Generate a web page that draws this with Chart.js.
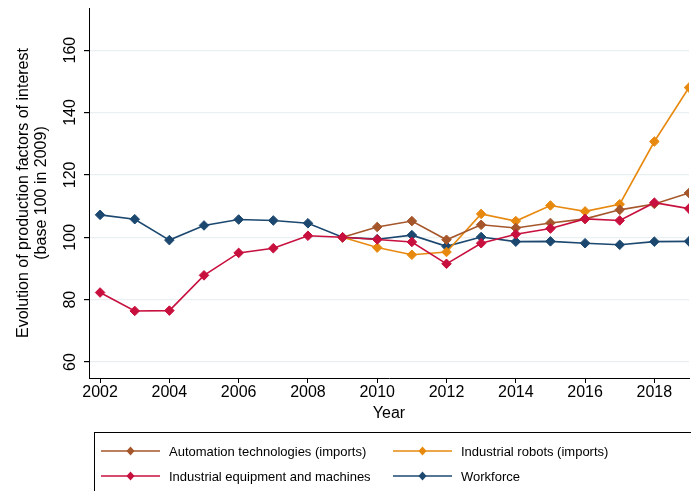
<!DOCTYPE html>
<html>
<head>
<meta charset="utf-8">
<script src="https://cdn.jsdelivr.net/npm/chart.js@4.4.1/dist/chart.umd.min.js"></script>
<style>
  html, body { margin: 0; padding: 0; background: #fff; }
  #wrap { width: 691px; height: 491px; }
</style>
</head>
<body>
<div id="wrap"><canvas id="myChart" width="691" height="491"></canvas></div>
<script>
const years = [2002, 2003, 2004, 2005, 2006, 2007, 2008, 2009, 2010, 2011, 2012, 2013, 2014, 2015, 2016, 2017, 2018, 2019]
const automation = [null, null, null, null, null, null, null, 100, 103.3, 105.2, 99.2, 104.0, 103.0, 104.6, 105.9, 108.8, 110.7, 114.2]
const robots = [null, null, null, null, null, null, null, 100, 96.7, 94.4, 95.3, 107.5, 105.2, 110.2, 108.3, 110.6, 130.7, 148.0]
const equipment = [82.3, 76.4, 76.5, 87.8, 95.0, 96.5, 100.5, 100, 99.3, 98.5, 91.5, 98.1, 101.0, 102.8, 105.9, 105.4, 111.1, 109.2]
const workforce = [107.2, 105.8, 99.1, 103.8, 105.7, 105.4, 104.5, 100, 99.4, 100.7, 97.1, 100.1, 98.6, 98.7, 98.1, 97.6, 98.6, 98.7]
const xTicks = [2002, 2004, 2006, 2008, 2010, 2012, 2014, 2016, 2018]
const yTicks = [60, 80, 100, 120, 140, 160]

const FONT = "'Liberation Sans', Arial, sans-serif"
const canvas = document.querySelector("#myChart")

function toPoints(values) {
    return values.map((v, i) => ({ x: years[i], y: v }))
}

function makeSet(label, values, color, order) {
    return {
        label,
        data: toPoints(values),
        borderColor: color,
        backgroundColor: color,
        borderWidth: 1.6,
        pointStyle: "rectRot",
        pointRadius: 4.8,
        pointHoverRadius: 4.8,
        pointBorderWidth: 1,
        tension: 0,
        spanGaps: false,
        order
    }
}

const datasets = [
    makeSet("Automation technologies (imports)", automation, "#a5562a", 1),
    makeSet("Industrial robots (imports)", robots, "#e8890f", 2),
    makeSet("Industrial equipment and machines", equipment, "#c8103e", 0),
    makeSet("Workforce", workforce, "#1c4870", 3)
]

// y tick labels, turned to read upwards like the original
const yLabels = {
    id: "yLabels",
    afterDraw(chart) {
        const ctx = chart.ctx
        const y = chart.scales.y
        ctx.save()
        ctx.fillStyle = "#000"
        ctx.font = "16px " + FONT
        ctx.textAlign = "center"
        ctx.textBaseline = "middle"
        yTicks.forEach(v => {
            ctx.save()
            ctx.translate(71, y.getPixelForValue(v))
            ctx.rotate(-Math.PI / 2)
            ctx.fillText(String(v), 0, 0)
            ctx.restore()
        })
        ctx.restore()
    }
}

// legend drawn by hand: two columns, line with a diamond in the middle
const legendBox = {
    id: "legendBox",
    afterDraw(chart) {
        const ctx = chart.ctx
        ctx.save()
        ctx.strokeStyle = "#000"
        ctx.lineWidth = 1
        ctx.strokeRect(94.5, 432.5, 620, 80)
        const cols = [101, 393]
        const rows = [451, 476]
        ctx.font = "13px " + FONT
        ctx.textBaseline = "middle"
        chart.data.datasets.forEach((ds, i) => {
            const x = cols[i % 2]
            const y = rows[Math.floor(i / 2)]
            ctx.strokeStyle = ds.borderColor
            ctx.lineWidth = 1.6
            ctx.beginPath()
            ctx.moveTo(x, y)
            ctx.lineTo(x + 59, y)
            ctx.stroke()
            ctx.fillStyle = ds.borderColor
            ctx.beginPath()
            ctx.moveTo(x + 29.5, y - 4.5)
            ctx.lineTo(x + 33.5, y)
            ctx.lineTo(x + 29.5, y + 4.5)
            ctx.lineTo(x + 25.5, y)
            ctx.closePath()
            ctx.fill()
            ctx.fillStyle = "#000"
            ctx.fillText(ds.label, x + 68, y + 1)
        })
        ctx.restore()
    }
}

const config = {
    type: "line",
    data: { datasets },
    plugins: [yLabels, legendBox],
    options: {
        responsive: false,
        animation: false,
        layout: { autoPadding: false, padding: { top: 8, right: 2, bottom: 68, left: 0 } },
        plugins: {
            legend: { display: false },
            tooltip: { enabled: false }
        },
        scales: {
            x: {
                type: "linear",
                min: 2001.68,
                max: 2019,
                afterBuildTicks: (scale) => { scale.ticks = xTicks.map(v => ({ value: v })) },
                afterFit: (scale) => { scale.height = 45 },
                grid: { drawOnChartArea: false, tickColor: "#000", tickLength: 5 },
                border: { color: "#000", width: 1 },
                ticks: {
                    color: "#000",
                    font: { family: FONT, size: 16 },
                    maxRotation: 0,
                    padding: 0,
                    callback: (v) => String(v)
                },
                title: {
                    display: true,
                    text: "Year",
                    color: "#000",
                    font: { family: FONT, size: 16 },
                    padding: { top: 0, bottom: 0 }
                }
            },
            y: {
                min: 54.9,
                max: 173.5,
                afterBuildTicks: (scale) => { scale.ticks = yTicks.map(v => ({ value: v })) },
                afterFit: (scale) => { scale.width = 89 },
                grid: { color: "#e8f0f1", tickColor: "#000", tickLength: 5, lineWidth: 1.2 },
                border: { color: "#000", width: 1 },
                ticks: { display: false },
                title: {
                    display: true,
                    text: ["Evolution of production factors of interest", "(base 100 in 2009)"],
                    color: "#000",
                    font: { family: FONT, size: 16, lineHeight: 1.1 },
                    padding: { top: 15, bottom: 0 }
                }
            }
        }
    }
}

canvas.style.backgroundColor = "white"
new Chart(canvas, config)
</script>
</body>
</html>
